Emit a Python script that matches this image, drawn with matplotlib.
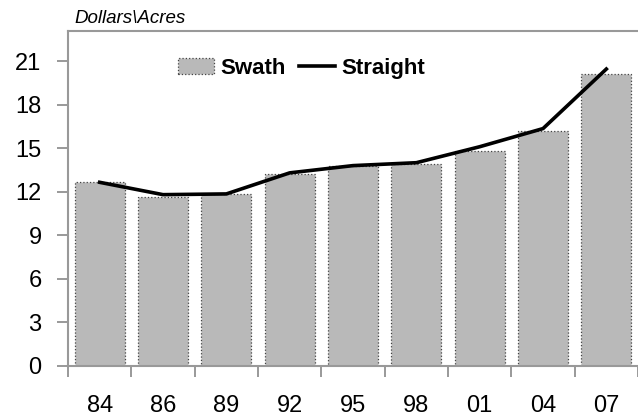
import matplotlib
matplotlib.use("Agg")
import matplotlib.pyplot as plt
import numpy as np

plt.rcParams["font.family"] = ["Liberation Sans", "DejaVu Sans"]

# ------------------------------------------------------------
# data
# ------------------------------------------------------------
years = ["84", "86", "89", "92", "95", "98", "01", "04", "07"]
swath = [12.65, 11.65, 11.85, 13.2, 13.8, 13.9, 14.8, 16.15, 20.1]
straight = [12.65, 11.8, 11.85, 13.3, 13.8, 14.0, 15.1, 16.35, 20.45]
yticks = [0, 3, 6, 9, 12, 15, 18, 21]

fig = plt.figure(figsize=(6.38, 4.19), dpi=100)
ax = fig.add_axes([0.1066, 0.1265, 0.8934, 0.7995])

x = np.arange(len(years))
bars = ax.bar(x, swath, width=0.79, color="#b9b9b9", edgecolor="#444444",
              linewidth=0.9, linestyle=":", label="Swath", zorder=2)
line, = ax.plot(x, straight, color="black", linewidth=2.6, label="Straight", zorder=3)

ax.set_xlim(-0.5, len(years) - 0.5)
ax.set_ylim(0, 23.07)

ax.set_yticks(yticks)
ax.set_yticklabels([str(v) for v in yticks], fontsize=17)
ax.tick_params(axis="y", length=8, width=1.2, color="#888888", pad=11)

ax.set_xticks(x)
ax.set_xticklabels(years, fontsize=17)
ax.set_xticks(np.arange(len(years) + 1) - 0.5, minor=True)
ax.tick_params(axis="x", which="major", length=0, pad=21)
ax.tick_params(axis="x", which="minor", length=8, width=1.2, color="#888888")

for side in ["left", "bottom", "top"]:
    ax.spines[side].set_color("#999999")
    ax.spines[side].set_linewidth(1.5)
ax.spines["right"].set_visible(False)

ax.text(0.012, 1.012, "Dollars\\Acres", transform=ax.transAxes,
        fontsize=13.5, style="italic", ha="left", va="bottom")

ax.legend([bars, line], ["Swath", "Straight"],
          loc="upper left", bbox_to_anchor=(0.158, 0.98), ncol=2, frameon=False,
          prop={"weight": "bold", "size": 16}, handlelength=1.6,
          handletextpad=0.3, columnspacing=0.6)

fig.savefig("out.png", dpi=100, facecolor="white")
